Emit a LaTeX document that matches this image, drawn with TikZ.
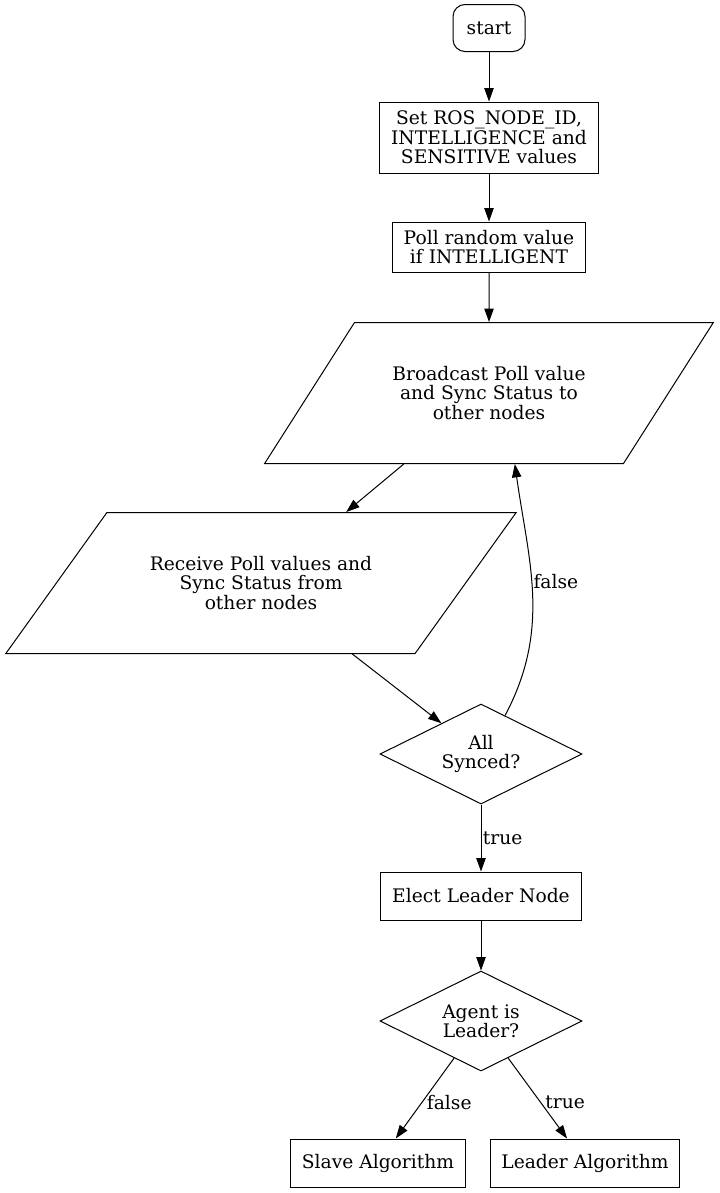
\documentclass[tikz,border=0pt]{standalone}
\usepackage{fontspec}
\setmainfont{DejaVu Serif}
\usetikzlibrary{arrows.meta,shapes.geometric}

\tikzset{
  box/.style={draw, rectangle, inner xsep=8.5pt, inner ysep=4pt, minimum height=36pt, align=center},
  startbox/.style={box, rounded corners=9pt, minimum width=54pt, minimum height=35.25pt},
  iobox/.style={draw, trapezium, trapezium stretches=true, inner sep=0pt, minimum height=105.75pt, align=center},
  decide/.style={draw, diamond, aspect=2, inner sep=0pt, minimum width=151.5pt, minimum height=75pt, align=center},
  flow/.style={-{Triangle[length=10pt,width=7pt]}, line width=0.75pt}
}

\begin{document}
\begin{tikzpicture}[x=0.75pt, y=-0.75pt, line width=0.75pt, font=\fontsize{14}{14.6}\selectfont]
  \useasboundingbox (0,0) rectangle (720,1193);

  \draw (489,28) node[startbox] (start) {start};
  \draw (489,137.5) node[box, minimum height=53.25pt] (setvals) {Set ROS\_NODE\_ID,\\INTELLIGENCE and\\SENSITIVE values};
  \draw (489,247) node[box, minimum height=37.5pt] (poll) {Poll random value\\if INTELLIGENT};
  \draw (489,393) node[iobox, minimum width=336.75pt, trapezium left angle=39.6, trapezium right angle=140.4] (broadcast) {Broadcast Poll value\\and Sync Status to\\other nodes};
  \draw (261,583) node[iobox, minimum width=383.25pt, trapezium left angle=36.2, trapezium right angle=143.8] (receive) {Receive Poll values and\\Sync Status from\\other nodes};
  \draw (481,754) node[decide] (synced) {All\\Synced?};
  \draw (481,896) node[box] (elect) {Elect Leader Node};
  \draw (481,1021) node[decide] (agent) {Agent is\\Leader?};
  \draw (378,1163) node[box] (slave) {Slave Algorithm};
  \draw (585,1163) node[box] (leader) {Leader Algorithm};

  \path[flow] (start) edge (setvals);
  \path[flow] (setvals) edge (poll);
  \path[flow] (poll) edge (broadcast);
  \path[flow] (broadcast) edge (receive);
  \path[flow] (receive) edge (synced);
  \path[flow] (synced.58) edge[out=62, in=-82] node[right, pos=0.55, inner sep=1pt] {false} (broadcast.-70);
  \path[flow] (synced) edge node[right, inner sep=1pt] {true} (elect);
  \path[flow] (elect) edge (agent);
  \path[flow] (agent) edge node[right, pos=0.55] {false} (slave);
  \path[flow] (agent) edge node[right, pos=0.55] {true} (leader);

\end{tikzpicture}
\end{document}
